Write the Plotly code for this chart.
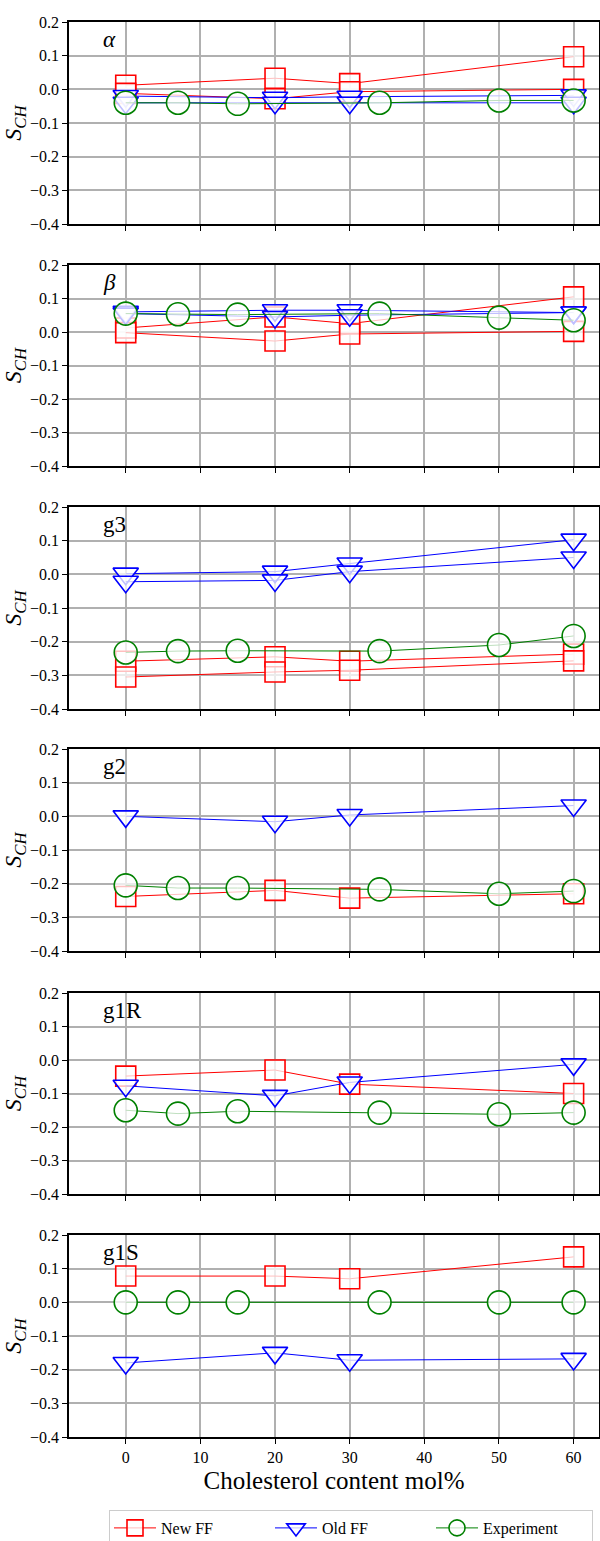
import plotly.graph_objects as go

# ---------------- data ----------------
x_ff = [0, 20, 30, 60]
x_exp = [0, 7, 15, 34, 50, 60]

panel_labels = ["<i>α</i>", "<i>β</i>", "g3", "g2", "g1R", "g1S"]

# New FF (one or two hydrogens per carbon)
new_alpha = [[0.012, 0.033, 0.017, 0.097], [-0.012, -0.028, -0.007, 0.0]]
new_beta = [[0.012, 0.045, 0.025, 0.105], [-0.002, -0.027, -0.006, 0.002]]
new_g3 = [[-0.258, -0.245, -0.258, -0.237], [-0.305, -0.290, -0.285, -0.257]]
new_g2 = [[-0.238, -0.220, -0.243, -0.230]]
new_g1R = [[-0.048, -0.030, -0.072, -0.100]]
new_g1S = [[0.078, 0.078, 0.070, 0.135]]

# Old FF
old_alpha = [[-0.020, -0.025, -0.022, -0.018], [-0.040, -0.040, -0.040, -0.040]]
old_beta = [[0.060, 0.065, 0.065, 0.058], [0.055, 0.045, 0.050, 0.058]]
old_g3 = [[0.002, 0.008, 0.032, 0.103], [-0.022, -0.018, 0.008, 0.050]]
old_g2 = [[0.000, -0.016, 0.004, 0.032]]
old_g1R = [[-0.077, -0.107, -0.067, -0.013]]
old_g1S = [[-0.180, -0.150, -0.172, -0.168]]

# Experiment
exp_alpha = [-0.040, -0.040, -0.043, -0.040, -0.033, -0.033]
exp_beta = [0.055, 0.053, 0.052, 0.055, 0.043, 0.035]
exp_g3 = [-0.232, -0.228, -0.227, -0.228, -0.210, -0.183]
exp_g2 = [-0.205, -0.213, -0.213, -0.217, -0.230, -0.222]
exp_g1R = [-0.150, -0.160, -0.153, -0.157, -0.162, -0.157]
exp_g1S = [0.0, 0.0, 0.0, 0.0, 0.0, 0.0]

new_ff = [new_alpha, new_beta, new_g3, new_g2, new_g1R, new_g1S]
old_ff = [old_alpha, old_beta, old_g3, old_g2, old_g1R, old_g1S]
experiment = [exp_alpha, exp_beta, exp_g3, exp_g2, exp_g1R, exp_g1S]

y_ticks = [0.2, 0.1, 0.0, -0.1, -0.2, -0.3, -0.4]
x_ticks = [0, 10, 20, 30, 40, 50, 60]

# ---------------- layout ----------------
W, H = 600, 1541
ML, MR = 69, 1
panel_px = [(22, 224), (265, 466), (507, 709), (749, 951), (993, 1194), (1235, 1437)]

FONT = "Liberation Serif, DejaVu Serif, serif"
RED, BLUE, GREEN = "#ff0000", "#0000ff", "#008000"
FILL = "rgba(255,255,255,0.75)"

fig = go.Figure()

for i in range(6):
    xa = "x" if i == 0 else f"x{i+1}"
    ya = "y" if i == 0 else f"y{i+1}"
    first = i == 0
    for k, ys in enumerate(new_ff[i]):
        fig.add_trace(go.Scatter(
            x=x_ff, y=ys, xaxis=xa, yaxis=ya, mode="lines+markers",
            name="New FF", legendgroup="new", showlegend=first and k == 0,
            line=dict(color=RED, width=1),
            marker=dict(symbol="square", size=20, color=FILL,
                        line=dict(color=RED, width=1.6))))
    for k, ys in enumerate(old_ff[i]):
        fig.add_trace(go.Scatter(
            x=x_ff, y=ys, xaxis=xa, yaxis=ya, mode="lines+markers",
            name="Old FF", legendgroup="old", showlegend=first and k == 0,
            line=dict(color=BLUE, width=1),
            marker=dict(symbol="triangle-down", size=22, color=FILL,
                        line=dict(color=BLUE, width=1.6))))
    fig.add_trace(go.Scatter(
        x=x_exp, y=experiment[i], xaxis=xa, yaxis=ya, mode="lines+markers",
        name="Experiment", legendgroup="exp", showlegend=first,
        line=dict(color=GREEN, width=1),
        marker=dict(symbol="circle", size=23, color=FILL,
                    line=dict(color=GREEN, width=1.6))))

plot_w = W - ML - MR
layout = dict(
    width=W, height=H,
    margin=dict(l=ML, r=MR, t=0, b=0, autoexpand=False),
    plot_bgcolor="white", paper_bgcolor="white",
    font=dict(family=FONT, size=16, color="black"),
    showlegend=True,
    legend=dict(orientation="h", x=(351 - ML) / plot_w, xanchor="center",
                y=1 - 1510 / H, yanchor="top",
                bordercolor="#cccccc", borderwidth=1, bgcolor="white",
                font=dict(family=FONT, size=16), itemwidth=42,
                entrywidth=104, entrywidthmode="pixels"),
)
annotations = []
for i in range(6):
    top, bot = panel_px[i]
    xkey = "xaxis" if i == 0 else f"xaxis{i+1}"
    ykey = "yaxis" if i == 0 else f"yaxis{i+1}"
    ya = "y" if i == 0 else f"y{i+1}"
    xa_cfg = dict(
        domain=[0, 1], anchor=ya, range=[-7.6, 63.4],
        tickvals=x_ticks, ticktext=[str(v) for v in x_ticks],
        showticklabels=(i == 5), ticks="outside", ticklen=5, tickwidth=1.2,
        tickcolor="black", showline=True, linecolor="black", linewidth=1.6,
        mirror=True, showgrid=True, gridcolor="#b0b0b0", gridwidth=1.6,
        zeroline=False, tickfont=dict(size=16), automargin=False,
    )
    if i == 5:
        xa_cfg["title"] = dict(text="Cholesterol content mol%",
                               font=dict(size=25), standoff=6)
    layout[xkey] = xa_cfg
    layout[ykey] = dict(
        domain=[1 - bot / H, 1 - top / H], anchor="x" if i == 0 else f"x{i+1}",
        range=[-0.4, 0.2], tickvals=y_ticks, tickformat=".1f",
        ticks="outside", ticklen=5, tickwidth=1.2, tickcolor="black",
        showline=True, linecolor="black", linewidth=1.6, mirror=True,
        showgrid=True, gridcolor="#b0b0b0", gridwidth=1.6, zeroline=False,
        tickfont=dict(size=16), automargin=False,
        title=dict(text="<i>S</i><sub><i>CH</i></sub>",
                   font=dict(family=FONT, size=24), standoff=1),
    )
    annotations.append(dict(
        text=panel_labels[i], xref=("x" if i == 0 else f"x{i+1}") + " domain",
        yref=("y" if i == 0 else f"y{i+1}") + " domain",
        x=0.06, y=0.985, xanchor="left", yanchor="top", showarrow=False,
        font=dict(family=FONT, size=23)))
layout["annotations"] = annotations
fig.update_layout(**layout)

fig.write_html("out.html")
